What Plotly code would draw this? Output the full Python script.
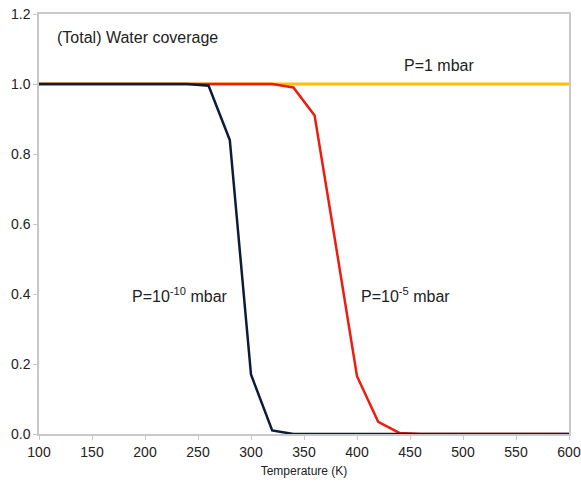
import plotly.graph_objects as go

temps = [100, 120, 140, 160, 180, 200, 220, 240, 260, 280, 300, 320, 340, 360, 380, 400,
         420, 440, 460, 480, 500, 520, 540, 560, 580, 600]
p1 = [1.0] * 26
p1e5 = [1.0, 1.0, 1.0, 1.0, 1.0, 1.0, 1.0, 1.0, 1.0, 1.0, 1.0, 1.0, 0.99, 0.91, 0.54, 0.165,
        0.035, 0.003, 0.0, 0.0, 0.0, 0.0, 0.0, 0.0, 0.0, 0.0]
p1e10 = [1.0, 1.0, 1.0, 1.0, 1.0, 1.0, 1.0, 1.0, 0.995, 0.84, 0.17, 0.01, 0.0, 0.0, 0.0, 0.0,
         0.0, 0.0, 0.0, 0.0, 0.0, 0.0, 0.0, 0.0, 0.0, 0.0]

fig = go.Figure()
fig.add_trace(go.Scatter(x=temps, y=p1, mode="lines", line=dict(color="#FFC000", width=3), name="P=1 mbar"))
fig.add_trace(go.Scatter(x=temps, y=p1e5, mode="lines", line=dict(color="#EE1C0E", width=2.5), name="P=1e-5 mbar"))
fig.add_trace(go.Scatter(x=temps, y=p1e10, mode="lines", line=dict(color="#0D1B3A", width=2.5), name="P=1e-10 mbar"))

FAM = "Liberation Sans, Arial, sans-serif"
font = dict(family=FAM, size=16, color="#222222")
fig.add_annotation(x=115, y=1.134, text="(Total) Water coverage",
                   showarrow=False, xanchor="left", font=font)
fig.add_annotation(x=477, y=1.054, text="P=1 mbar", showarrow=False, font=font)
fig.add_annotation(x=233, y=0.397, text="P=10<sup>-10</sup> mbar", showarrow=False, font=font)
fig.add_annotation(x=446, y=0.397, text="P=10<sup>-5</sup> mbar", showarrow=False, font=font)

axis_common = dict(showgrid=False, zeroline=False, showline=True, linecolor="#c8c8c8", linewidth=1.5,
                   mirror=True, ticks="outside", ticklen=4, tickcolor="#c8c8c8", automargin=False,
                   tickfont=dict(family=FAM, size=14, color="#222222"))
fig.update_xaxes(range=[100, 600], tickvals=[100, 150, 200, 250, 300, 350, 400, 450, 500, 550, 600],
                 title=dict(text="Temperature (K)", font=dict(family=FAM, size=12, color="#222222"), standoff=8),
                 **axis_common)
fig.update_yaxes(range=[0, 1.2], tickvals=[0, 0.2, 0.4, 0.6, 0.8, 1.0, 1.2], tickformat=".1f", **axis_common)

fig.update_layout(width=581, height=482, margin=dict(l=39, r=12, t=14, b=48),
                  paper_bgcolor="white", plot_bgcolor="white", showlegend=False)
fig.write_html("out.html")
